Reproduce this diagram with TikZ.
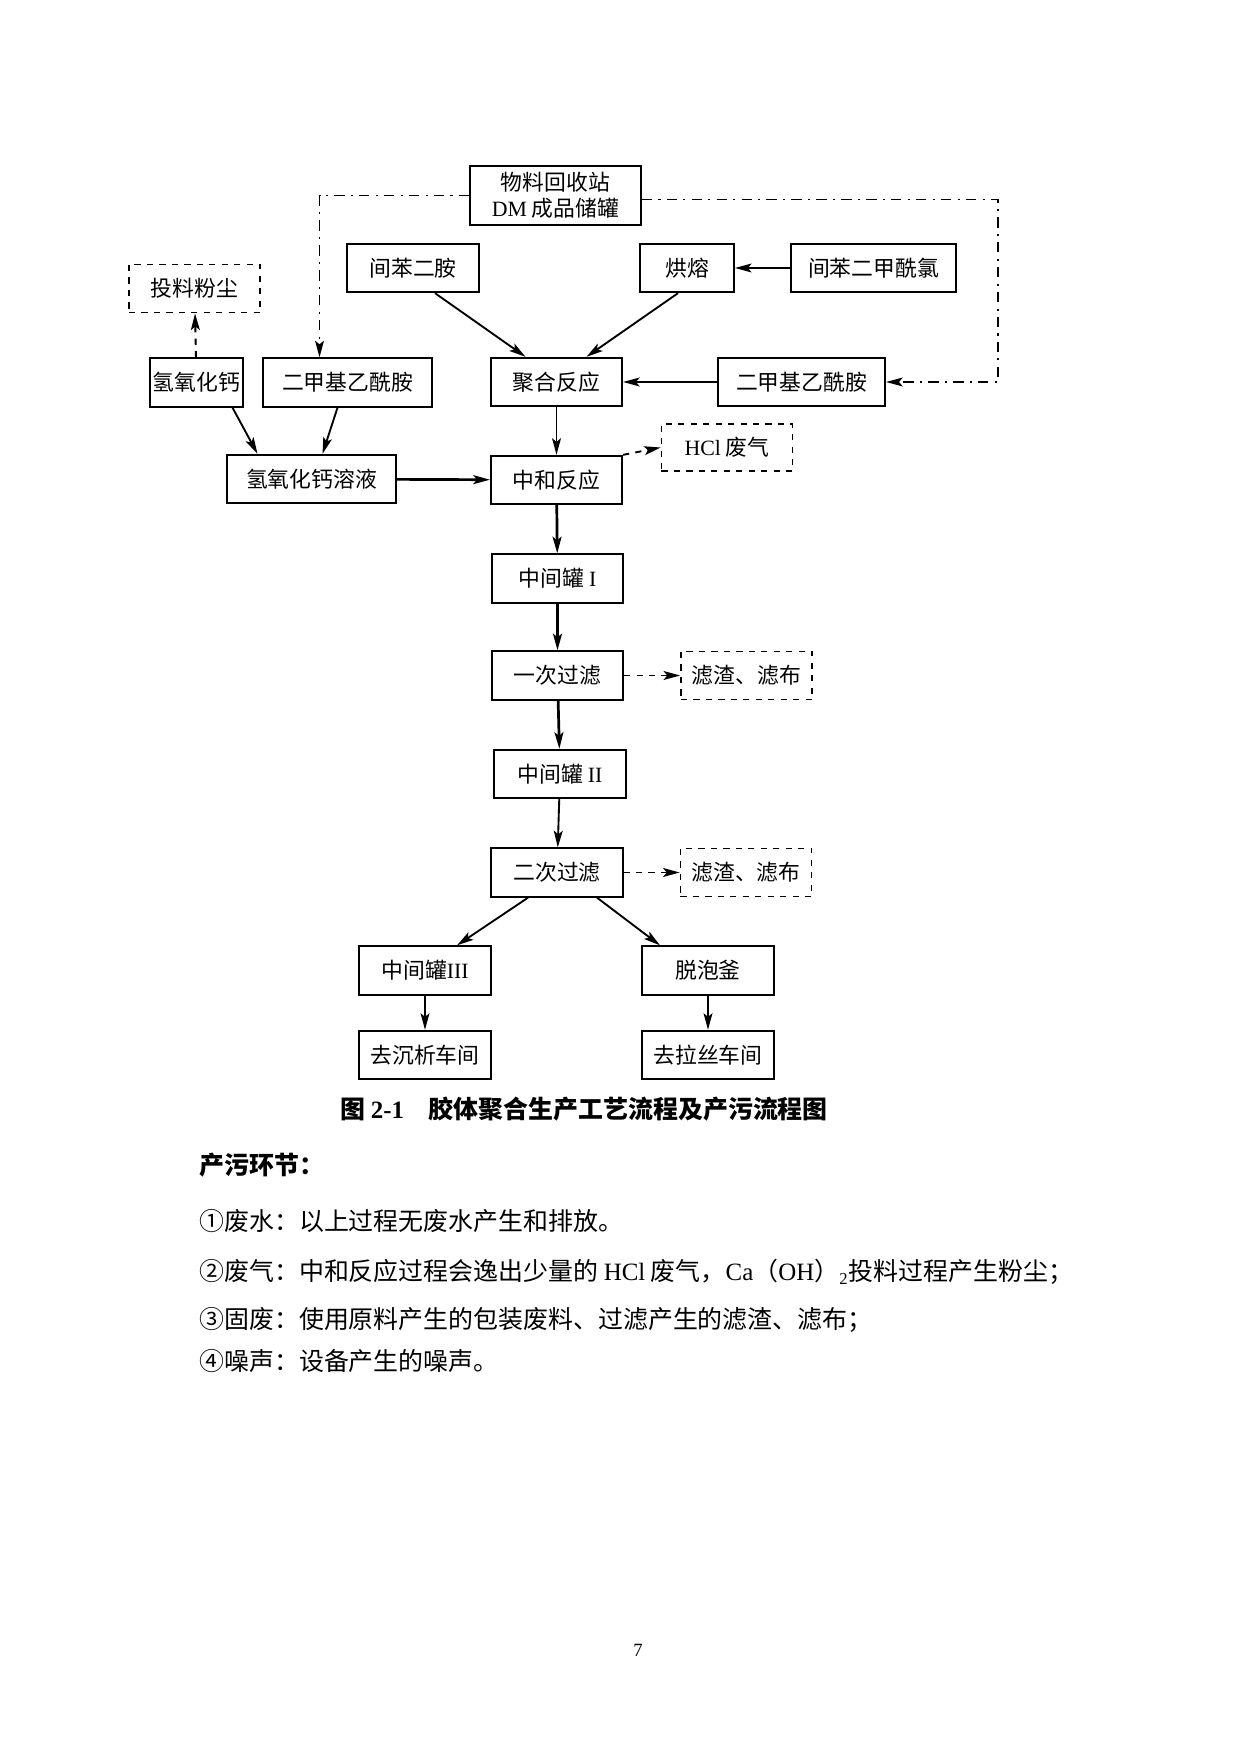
\documentclass[tikz,border=0pt]{standalone}
\usepackage{fontspec}
\setmainfont{Liberation Serif}
\newfontfamily\cjk{Noto Sans CJK SC}
\usetikzlibrary{arrows.meta,calc}

\begin{document}
\begin{tikzpicture}[x=0.1692mm,y=-0.1692mm,>={Stealth[length=2.8mm,width=1.5mm,inset=0.6mm]},
  box/.style={draw,line width=0.9pt,minimum width=22.2mm,minimum height=8.2mm,inner sep=1pt,align=center,font=\cjk\fontsize{10.5}{12.5}\selectfont},
  dbox/.style={box,dashed,line width=0.7pt},
  flow/.style={->,line width=0.9pt},
  waste/.style={->,dashed,line width=0.9pt},
  recycle/.style={->,line width=0.8pt,dash pattern=on 5pt off 3pt on 1pt off 3pt},
  txt/.style={anchor=west,inner sep=0pt,font=\cjk\fontsize{12}{14}\selectfont}]
  \useasboundingbox (0,0) rectangle (1241,1754);

  \node[box,minimum width=28.9mm,minimum height=10mm] (recyc) at (555.5,195.5) {物料回收站\\{\rmfamily DM} 成品储罐};
  \node[box] (mpd) at (413,268) {间苯二胺};
  \node[box,minimum width=15.9mm] (melt) at (687,268) {烘熔};
  \node[box,minimum width=27.9mm] (ipc) at (873.5,268) {间苯二甲酰氯};
  \node[dbox] (dust) at (194.5,288.5) {投料粉尘};
  \node[box,minimum width=15.7mm] (caoh) at (196.5,382.5) {氢氧化钙};
  \node[box,minimum width=28.6mm] (dmacL) at (347.5,382.5) {二甲基乙酰胺};
  \node[box] (poly) at (556.5,382) {聚合反应};
  \node[box,minimum width=28.3mm] (dmacR) at (801.5,382) {二甲基乙酰胺};
  \node[dbox,minimum height=8mm] (hcl) at (727,447.5) {{\rmfamily HCl} 废气};
  \node[box,minimum width=28.6mm] (sol) at (311.5,479) {氢氧化钙溶液};
  \node[box] (neut) at (556.5,480) {中和反应};
  \node[box] (tank1) at (557.5,578.5) {中间罐 {\rmfamily I}};
  \node[box] (filt1) at (557.5,675.5) {一次过滤};
  \node[dbox] (res1) at (746.5,675.5) {滤渣、滤布};
  \node[box] (tank2) at (560,774) {中间罐 {\rmfamily II}};
  \node[box] (filt2) at (557,872.5) {二次过滤};
  \node[dbox] (res2) at (746,872.5) {滤渣、滤布};
  \node[box] (tank3) at (425,970.5) {中间罐{\rmfamily III}};
  \node[box] (defoam) at (708,970.5) {脱泡釜};
  \node[box] (toprec) at (425,1055) {去沉析车间};
  \node[box] (tospin) at (708,1055) {去拉丝车间};

  \path[flow]
    (ipc) edge (melt)
    (dmacR) edge (poly)
    (poly) edge (neut)
    (sol) edge[line width=1.3pt] (neut)
    (neut) edge[line width=1.3pt] (tank1)
    (tank1) edge[line width=1.3pt] (filt1)
    (filt1) edge[line width=1.3pt] (tank2)
    (tank2) edge (filt2)
    (tank3) edge (toprec)
    (defoam) edge (tospin);
  \path[waste]
    (caoh) edge (dust)
    (neut.north east) edge (hcl.west)
    (filt1) edge (res1)
    (filt2) edge (res2);

  \draw[flow] ($(mpd.south)+(22,0)$) -- ($(poly.north)+(-31,0)$);
  \draw[flow] ($(melt.south)+(-9,0)$) -- ($(poly.north)+(30,0)$);
  \draw[flow] ($(caoh.south)+(36,0)$) -- ($(sol.north)+(-54,0)$);
  \draw[flow] ($(dmacL.south)+(-10,0)$) -- ($(sol.north)+(11,0)$);
  \draw[flow] ($(filt2.south)+(-29,0)$) -- ($(tank3.north)+(32,0)$);
  \draw[flow] ($(filt2.south)+(40,0)$) -- ($(defoam.north)+(-48,0)$);

  \draw[recycle] (recyc.west) -| ($(dmacL.north)+(-28,0)$);
  \draw[recycle] ($(recyc.east)+(0,4)$) -| ($(dmacR.east)+(112,0)$) -- (dmacR.east);

  \node[font=\cjk\bfseries\fontsize{12}{14}\selectfont] (cap) at (584,1109) {图 {\rmfamily 2-1}\quad 胶体聚合生产工艺流程及产污流程图};
  \node[txt,font=\cjk\bfseries\fontsize{12}{14}\selectfont] (t0) at (199,1165) {产污环节：};
  \node[txt] (t1) at (199,1221) {①废水：以上过程无废水产生和排放。};
  \node[txt] (t2) at (199,1272) {②废气：中和反应过程会逸出少量的 {\rmfamily HCl} 废气，{\rmfamily Ca}（{\rmfamily OH}）{\rmfamily\textsubscript{2}}投料过程产生粉尘；};
  \node[txt] (t3) at (199,1320) {③固废：使用原料产生的包装废料、过滤产生的滤渣、滤布；};
  \node[txt] (t4) at (199,1361) {④噪声：设备产生的噪声。};
  \node[font=\fontsize{9}{10}\selectfont] (pg) at (638,1650) {7};
\end{tikzpicture}
\end{document}
